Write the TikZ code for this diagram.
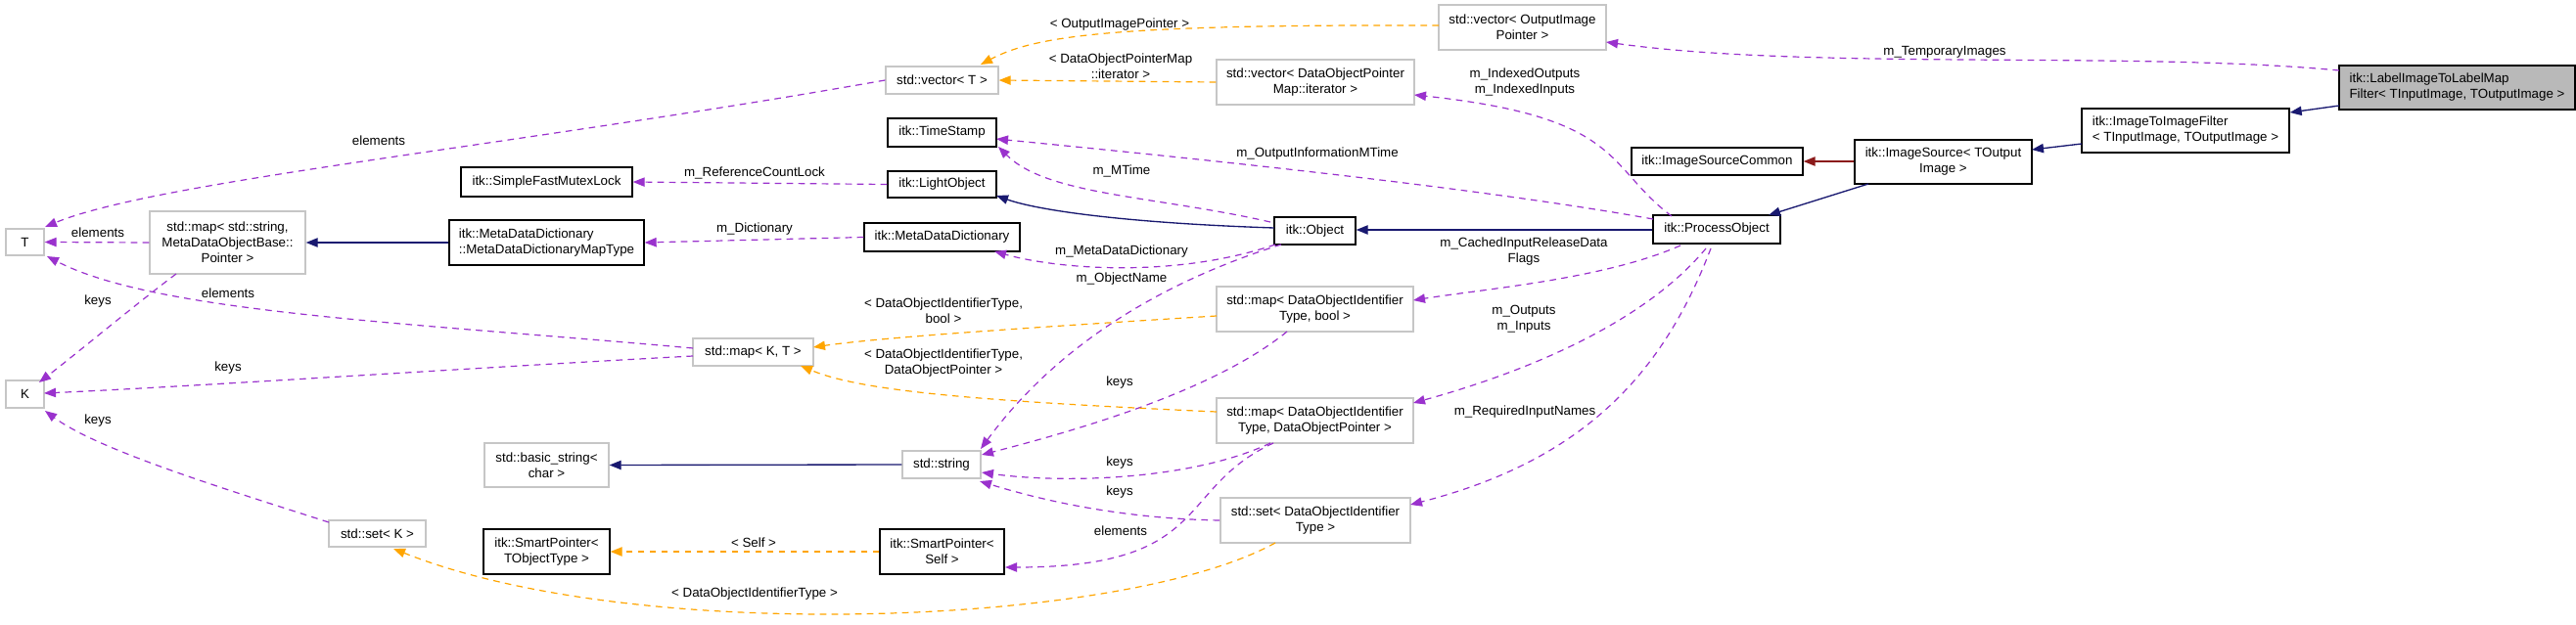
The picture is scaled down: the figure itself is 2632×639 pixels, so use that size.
\documentclass[tikz,border=0pt]{standalone}
\usepackage{fontspec}
\setmainfont{Liberation Sans}
\usetikzlibrary{arrows.meta}
\definecolor{pur}{HTML}{9A32CD}
\definecolor{org}{HTML}{FFA500}
\definecolor{nav}{HTML}{191970}
\definecolor{frb}{HTML}{8B1A1A}
\newcommand{\bx}[7]{\node[#6, minimum width={(#4-#2)*0.75pt}, minimum height={(#5-#3)*0.75pt}] (#1) at ({(#2+#4)/2},{(#3+#5)/2}) {#7};}
\begin{document}
\begin{tikzpicture}[x=0.75pt,y=-0.75pt,
  font=\fontsize{10}{12}\selectfont,
  base/.style={rectangle, inner sep=0pt, line width=1pt},
  itk/.style={base, draw=black, align=center},
  std/.style={base, draw=gray!45, align=center},
  use/.style={pur, line width=0.9pt, dash pattern=on 5pt off 4pt, -{Triangle[length=9pt,width=7pt]}},
  tpl/.style={org, line width=0.9pt, dash pattern=on 5pt off 4pt, -{Triangle[length=9pt,width=7pt]}},
  inh/.style={nav, line width=1pt, -{Triangle[length=9pt,width=7pt]}},
  pinh/.style={frb, line width=1pt, -{Triangle[length=9pt,width=7pt]}},
  lbl/.style={inner sep=0pt, align=center, font=\fontsize{10}{12}\selectfont}]
\useasboundingbox (0,0) rectangle (2632,639);
% nodes
\bx{T}{6}{234}{45}{261}{std}{T}
\bx{K}{6}{389}{45}{417}{std}{K}
\bx{mapStr}{153}{216}{312}{280}{std}{std::map< std::string,\\ MetaDataObjectBase::\\Pointer >}
\bx{SFML}{471}{171}{646}{201}{itk}{itk::SimpleFastMutexLock}
\bx{MDDMT}{459}{225}{658}{271}{itk,align=left}{itk::MetaDataDictionary\\::MetaDataDictionaryMapType}
\bx{mapKT}{708}{346}{831}{374}{std}{std::map< K, T >}
\bx{bstr}{495}{453}{622}{498}{std}{std::basic\_string<\\ char >}
\bx{setK}{336}{532}{435}{559}{std}{std::set< K >}
\bx{SPT}{494}{541}{623}{587}{itk}{itk::SmartPointer<\\ TObjectType >}
\bx{vecOIP}{1470}{5}{1641}{51}{std}{std::vector< OutputImage\\Pointer >}
\bx{vecT}{905}{68}{1020}{96}{std}{std::vector< T >}
\bx{vecDOPM}{1243}{61}{1445}{107}{std}{std::vector< DataObjectPointer\\Map::iterator >}
\bx{TS}{907}{121}{1018}{150}{itk}{itk::TimeStamp}
\bx{LO}{907}{175}{1018}{202}{itk}{itk::LightObject}
\bx{MDD}{883}{228}{1042}{257}{itk}{itk::MetaDataDictionary}
\bx{Obj}{1302}{222}{1385}{250}{itk}{itk::Object}
\bx{ISC}{1667}{151}{1842}{179}{itk}{itk::ImageSourceCommon}
\bx{PO}{1689}{220}{1819}{249}{itk}{itk::ProcessObject}
\bx{mapB}{1243}{293}{1444}{339}{std}{std::map< DataObjectIdentifier\\Type, bool >}
\bx{mapP}{1243}{407}{1444}{453}{std}{std::map< DataObjectIdentifier\\Type, DataObjectPointer >}
\bx{str}{922}{461}{1002}{489}{std}{std::string}
\bx{setD}{1247}{509}{1441}{555}{std}{std::set< DataObjectIdentifier\\Type >}
\bx{SPS}{899}{541}{1026}{587}{itk}{itk::SmartPointer<\\ Self >}
\bx{LBL}{2390}{67}{2631}{112}{itk,fill=gray!55,align=left}{itk::LabelImageToLabelMap\\Filter< TInputImage, TOutputImage >}
\bx{I2I}{2127}{111}{2339}{156}{itk,align=left}{itk::ImageToImageFilter\\< TInputImage, TOutputImage >}
\bx{IS}{1895}{143}{2076}{188}{itk}{itk::ImageSource< TOutput\\Image >}
% inheritance
\draw[inh] (2390,108) -- (I2I.east |- 0,115);
\draw[inh] (2127,147) -- (2076,153);
\draw[pinh] (IS.west |- 0,165) -- (ISC.east |- 0,165);
\draw[inh] (1909,188) -- (1807,220);
\draw[inh] (PO.west |- 0,235) -- (Obj.east |- 0,235);
\draw[inh] (1302,233) .. controls (1150,228) and (1060,215) .. (1018,200);
\draw[inh] (MDDMT.west) -- (mapStr.east);
\draw[inh] (str.west) -- (bstr.east);
% usage
\draw[use] (2390,72) .. controls (2180,52) and (1850,72) .. (1641,43);
\draw[use] (vecT.west) .. controls (520,150) and (160,185) .. (46,232);
\draw[use] (mapStr.west) -- (T.east);
\draw[use] (180,280) .. controls (140,310) and (80,360) .. (40,391);
\draw[use] (708,356) .. controls (420,330) and (160,320) .. (48,262);
\draw[use] (708,364) .. controls (500,375) and (200,395) .. (45,402);
\draw[use] (336,534) .. controls (230,500) and (100,460) .. (46,420);
\draw[use] (LO.west) -- (SFML.east);
\draw[use] (MDD.west) -- (MDDMT.east);
\draw[use] (1298,227) .. controls (1180,200) and (1070,200) .. (1020,150);
\draw[use] (1689,224) .. controls (1500,190) and (1200,160) .. (1018,142);
\draw[use] (1303,250) .. controls (1200,285) and (1080,275) .. (1016,257);
\draw[use] (1309,250) .. controls (1150,300) and (1060,380) .. (1002,459);
\draw[use] (1708,221) .. controls (1640,170) and (1660,120) .. (1445,97);
\draw[use] (1717,251) .. controls (1640,285) and (1520,295) .. (1444,307);
\draw[use] (1743,254) .. controls (1680,330) and (1560,380) .. (1444,412);
\draw[use] (1748,254) .. controls (1700,380) and (1620,470) .. (1441,516);
\draw[use] (1315,339) .. controls (1240,400) and (1100,440) .. (1003,465);
\draw[use] (1298,453) .. controls (1220,490) and (1090,495) .. (1003,483);
\draw[use] (1246,532) .. controls (1140,530) and (1060,510) .. (1001,492);
\draw[use] (1301,453) .. controls (1200,500) and (1240,580) .. (1027,580);
% templates
\draw[tpl] (1470,26) .. controls (1150,25) and (1060,35) .. (1002,66);
\draw[tpl] (vecDOPM.west) -- (vecT.east);
\draw[tpl] (1243,323) .. controls (1050,335) and (900,345) .. (831,355);
\draw[tpl] (1243,421) .. controls (1000,410) and (880,400) .. (818,374);
\draw[tpl] (SPS.west) -- (SPT.east);
\draw[tpl] (1303,555) .. controls (1150,640) and (650,660) .. (402,561);
% labels
\node[lbl] (l1) at (1987,53) {m\_TemporaryImages};
\node[lbl] (l2) at (387,144) {elements};
\node[lbl] (l3) at (100,238) {elements};
\node[lbl] (l4) at (100,308) {keys};
\node[lbl] (l5) at (233,300) {elements};
\node[lbl] (l6) at (233,376) {keys};
\node[lbl] (l7) at (100,430) {keys};
\node[lbl] (l8) at (771,177) {m\_ReferenceCountLock};
\node[lbl] (l9) at (771,234) {m\_Dictionary};
\node[lbl] (l10) at (770,555) {< Self >};
\node[lbl] (l11) at (771,607) {< DataObjectIdentifierType >};
\node[lbl] (l12) at (1144,25) {< OutputImagePointer >};
\node[lbl] (l13) at (1145,68) {< DataObjectPointerMap\\::iterator >};
\node[lbl] (l14) at (1558,84) {m\_IndexedOutputs\\m\_IndexedInputs};
\node[lbl] (l15) at (1346,157) {m\_OutputInformationMTime};
\node[lbl] (l16) at (1146,175) {m\_MTime};
\node[lbl] (l17) at (1146,257) {m\_MetaDataDictionary};
\node[lbl] (l18) at (1146,285) {m\_ObjectName};
\node[lbl] (l19) at (1557,257) {m\_CachedInputReleaseData\\Flags};
\node[lbl] (l20) at (964,318) {< DataObjectIdentifierType,\\bool >};
\node[lbl] (l21) at (1557,326) {m\_Outputs\\m\_Inputs};
\node[lbl] (l22) at (964,371) {< DataObjectIdentifierType,\\DataObjectPointer >};
\node[lbl] (l23) at (1144,391) {keys};
\node[lbl] (l24) at (1558,421) {m\_RequiredInputNames};
\node[lbl] (l25) at (1144,473) {keys};
\node[lbl] (l26) at (1144,503) {keys};
\node[lbl] (l27) at (1145,543) {elements};
\end{tikzpicture}
\end{document}
